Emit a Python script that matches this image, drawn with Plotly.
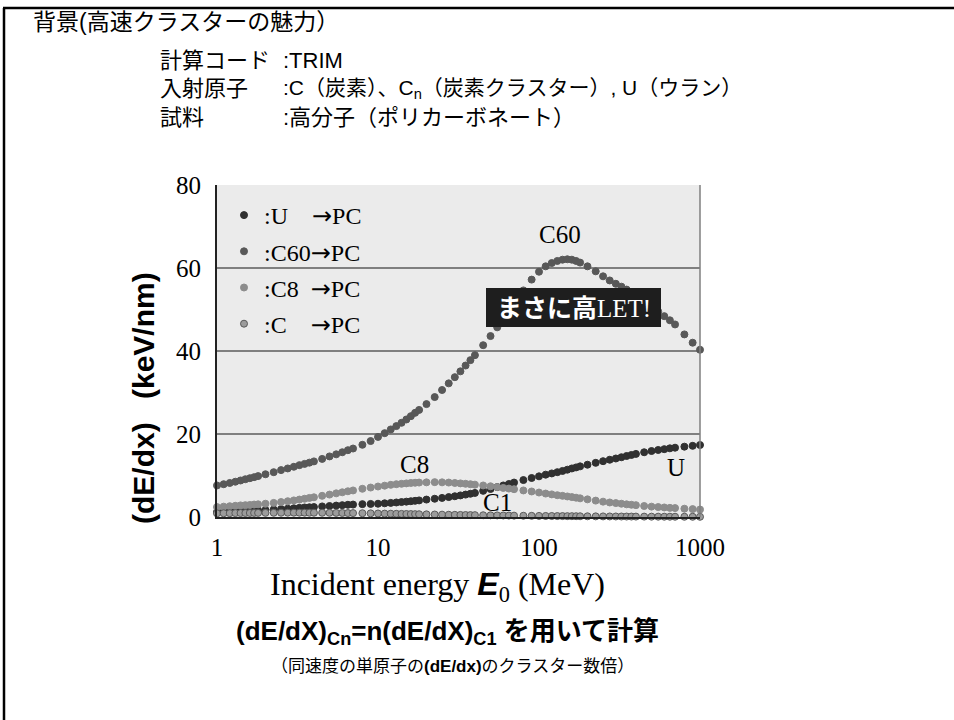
import plotly.graph_objects as go

# ---------------- data ----------------
energy_MeV = [1, 1.1, 1.2, 1.3, 1.4, 1.5, 1.6, 1.7, 1.8, 2,
              2.25, 2.5, 2.75, 3, 3.25, 3.5, 3.75, 4, 4.5, 5,
              5.5, 6, 6.5, 7, 8, 9, 10, 11, 12, 13,
              14, 15, 16, 17, 18, 20, 22.5, 25, 27.5, 30,
              32.5, 35, 37.5, 40, 45, 50, 55, 60, 65, 70,
              80, 90, 100, 110, 120, 130, 140, 150, 160, 170,
              180, 200, 225, 250, 275, 300, 325, 350, 375, 400,
              450, 500, 550, 600, 650, 700, 800, 900, 1000]

dedx_U = [1.2, 1.25, 1.3, 1.35, 1.4, 1.45, 1.5, 1.55, 1.6, 1.7,
          1.8, 1.9, 2.0, 2.1, 2.2, 2.3, 2.35, 2.4, 2.55, 2.65,
          2.75, 2.85, 2.95, 3.0, 3.1, 3.15, 3.2, 3.3, 3.4, 3.5,
          3.6, 3.7, 3.8, 3.9, 4.0, 4.2, 4.4, 4.6, 4.8, 5.0,
          5.2, 5.4, 5.6, 5.8, 6.3, 6.75, 7.2, 7.6, 7.95, 8.3,
          8.9, 9.4, 9.8, 10.2, 10.5, 10.8, 11.1, 11.4, 11.7, 11.95,
          12.2, 12.6, 13.05, 13.45, 13.8, 14.1, 14.4, 14.7, 14.95, 15.2,
          15.6, 15.9, 16.15, 16.35, 16.55, 16.7, 16.95, 17.15, 17.35]

dedx_C60 = [7.6, 7.9, 8.2, 8.5, 8.8, 9.1, 9.35, 9.6, 9.85, 10.3,
            10.8, 11.3, 11.7, 12.1, 12.5, 12.8, 13.1, 13.4, 14.0, 14.6,
            15.1, 15.6, 16.1, 16.5, 17.4, 18.3, 19.3, 20.2, 21.1, 21.9,
            22.7, 23.5, 24.3, 25.1, 25.8, 27.2, 28.9, 30.6, 32.2, 33.7,
            35.1, 36.5, 37.8, 39.0, 41.4, 43.6, 45.7, 47.7, 49.6, 51.4,
            54.6, 57.2, 59.1, 60.4, 61.2, 61.7, 62.0, 62.1, 62.0, 61.7,
            61.3, 60.4, 59.2, 58.0, 57.0, 56.2, 55.5, 54.8, 54.1, 53.4,
            52.0, 50.7, 49.5, 48.4, 47.4, 46.4, 44.0, 42.0, 40.3]

dedx_C8 = [2.4, 2.5, 2.6, 2.7, 2.8, 2.85, 2.9, 3.0, 3.05, 3.2,
           3.4, 3.6, 3.8, 4.0, 4.2, 4.4, 4.6, 4.75, 5.1, 5.4,
           5.7, 5.95, 6.2, 6.4, 6.8, 7.1, 7.35, 7.55, 7.75, 7.9,
           8.0, 8.1, 8.2, 8.25, 8.3, 8.35, 8.4, 8.35, 8.3, 8.2,
           8.1, 8.0, 7.9, 7.8, 7.6, 7.4, 7.2, 7.0, 6.85, 6.7,
           6.4, 6.15, 5.9, 5.65, 5.45, 5.25, 5.1, 4.95, 4.8, 4.65,
           4.5, 4.25, 3.95, 3.7, 3.5, 3.35, 3.2, 3.05, 2.95, 2.85,
           2.65, 2.5, 2.4, 2.3, 2.2, 2.15, 2.0, 1.9, 1.8]

dedx_C1 = [0.88, 0.90, 0.92, 0.94, 0.95, 0.96, 0.97, 0.98, 0.99, 1.00,
           1.02, 1.03, 1.04, 1.04, 1.04, 1.04, 1.03, 1.03, 1.02, 1.01,
           0.99, 0.97, 0.95, 0.94, 0.91, 0.88, 0.85, 0.82, 0.80, 0.77,
           0.75, 0.73, 0.71, 0.69, 0.67, 0.64, 0.60, 0.57, 0.54, 0.52,
           0.50, 0.48, 0.46, 0.45, 0.42, 0.40, 0.38, 0.36, 0.34, 0.33,
           0.30, 0.28, 0.26, 0.25, 0.24, 0.23, 0.22, 0.21, 0.20, 0.19,
           0.18, 0.17, 0.155, 0.145, 0.135, 0.125, 0.118, 0.112, 0.106, 0.10,
           0.092, 0.085, 0.079, 0.074, 0.070, 0.066, 0.060, 0.055, 0.051]

ARROW = "<span style='font-family:DejaVu Sans'>\u2192</span>"
legend_names = [":U\u2003" + ARROW + "PC", ":C60" + ARROW + "PC",
                ":C8\u2002" + ARROW + "PC", ":C\u2003" + ARROW + "PC"]
x_tick_vals = [1, 10, 100, 1000]
x_tick_text = ["1", "10", "100", "1000"]
y_tick_vals = [0, 20, 40, 60, 80]
y_tick_text = ["0", "20", "40", "60", "80"]

# ---------------- layout geometry (pixels) ----------------
W, H = 954, 720
PL, PR, PT, PB = 217, 700, 185, 517


def fx(px):
    return (px - PL) / (PR - PL)


def fy(py):
    return (PB - py) / (PB - PT)


SERIF = "Liberation Serif"
JP = "Liberation Sans, Noto Sans CJK JP"

fig = go.Figure()

series = [
    (dedx_U, legend_names[0], "#303030", "#303030"),
    (dedx_C60, legend_names[1], "#585858", "#585858"),
    (dedx_C8, legend_names[2], "#8c8c8c", "#8c8c8c"),
    (dedx_C1, legend_names[3], "#9c9c9c", "#5a5a5a"),
]
for i, (vals, name, fill, edge) in enumerate(series):
    fig.add_trace(go.Scatter(
        x=energy_MeV, y=vals, mode="markers", name=name,
        legendgroup="g%d" % i,
        marker=dict(size=7, color=fill, line=dict(color=edge, width=1)),
        cliponaxis=False,
    ))

annotations = []


def txt(text, px, py, size, family=JP, color="black", xanchor="left", **kw):
    annotations.append(dict(
        text=text, x=fx(px), y=fy(py), xref="paper", yref="paper",
        xanchor=xanchor, yanchor="middle", showarrow=False,
        font=dict(family=family, size=size, color=color), **kw))


# header
txt("背景(高速クラスターの魅力）", 31, 22, 23)
txt("計算コード", 158, 60, 22)
txt(":TRIM", 281, 60, 22)
txt("入射原子", 158, 89, 22)
txt(":C（炭素）、C<sub>n</sub>（炭素クラスター）, U（ウラン）", 281, 89, 21)
txt("試料", 158, 118, 22)
txt(":高分子（ポリカーボネート）", 281, 118, 22)

# curve labels
txt("C60", 560, 234, 25, family=SERIF, xanchor="center")
txt("C8", 414, 464, 25, family=SERIF, xanchor="center")
txt("C1", 497, 502, 25, family=SERIF, xanchor="center")
txt("U", 676, 467, 25, family=SERIF, xanchor="center")

# highlight box text
txt("<b>まさに高</b><span style='font-family:Liberation Serif'>LET!</span>",
    574, 308, 25, color="white", xanchor="center")

# axis titles
annotations.append(dict(
    text="<b>(dE/dx)\u2002 (keV/nm)</b>", x=fx(143), y=fy(398),
    xref="paper", yref="paper", xanchor="center", yanchor="middle",
    textangle=-90, showarrow=False,
    font=dict(family="Liberation Sans", size=30, color="black")))
txt("Incident energy <span style='font-family:Liberation Sans'><b><i>E</i></b></span><sub>0</sub> (MeV)",
    437, 586, 32, family=SERIF, xanchor="center")

# footnotes
txt("<b>(dE/dX)<sub>Cn</sub>=n(dE/dX)<sub>C1</sub> を用いて計算</b>", 447, 632, 26, xanchor="center")
txt("（同速度の単原子の<b>(dE/dx)</b>のクラスター数倍）", 452, 666, 17, xanchor="center")

shapes = [
    # slide frame (left + top edges)
    dict(type="line", xref="paper", yref="paper", x0=fx(4), x1=fx(4), y0=fy(8), y1=fy(725),
         line=dict(color="black", width=2.5)),
    dict(type="line", xref="paper", yref="paper", x0=fx(3), x1=fx(960), y0=fy(8), y1=fy(8),
         line=dict(color="black", width=2.5)),
    # right border of plot
    dict(type="line", xref="paper", yref="paper", x0=1, x1=1, y0=0, y1=1,
         line=dict(color="#7f7f7f", width=1.5)),
    # black box behind "まさに高LET!"
    dict(type="rect", xref="paper", yref="paper", x0=fx(486), x1=fx(661), y0=fy(327), y1=fy(288),
         fillcolor="#1e1e1e", line=dict(width=0), layer="above"),
]

fig.update_layout(
    width=W, height=H,
    margin=dict(l=PL, r=W - PR, t=PT, b=H - PB, autoexpand=False),
    paper_bgcolor="white", plot_bgcolor="#ebebeb",
    showlegend=True,
    legend=dict(x=fx(224), y=fy(193), xanchor="left", yanchor="top",
                bgcolor="rgba(0,0,0,0)", traceorder="grouped", tracegroupgap=2,
                itemsizing="trace",
                font=dict(family=SERIF, size=24, color="black")),
    annotations=annotations,
    shapes=shapes,
)

fig.update_xaxes(type="log", range=[0, 3], tickvals=x_tick_vals, ticktext=x_tick_text,
                 showgrid=False, zeroline=False, showline=True, linecolor="#222", linewidth=2,
                 ticks="", ticklabelstandoff=7,
                 tickfont=dict(family=SERIF, size=25, color="black"))
fig.update_yaxes(range=[0, 80], tickvals=y_tick_vals, ticktext=y_tick_text,
                 showgrid=True, gridcolor="#7f7f7f", gridwidth=1.5, zeroline=False,
                 showline=True, linecolor="#222", linewidth=2,
                 ticks="", ticklabelstandoff=9,
                 tickfont=dict(family=SERIF, size=25, color="black"))

fig.write_html("out.html", config={"displayModeBar": False},
               post_script="document.body.style.margin='0px';")
